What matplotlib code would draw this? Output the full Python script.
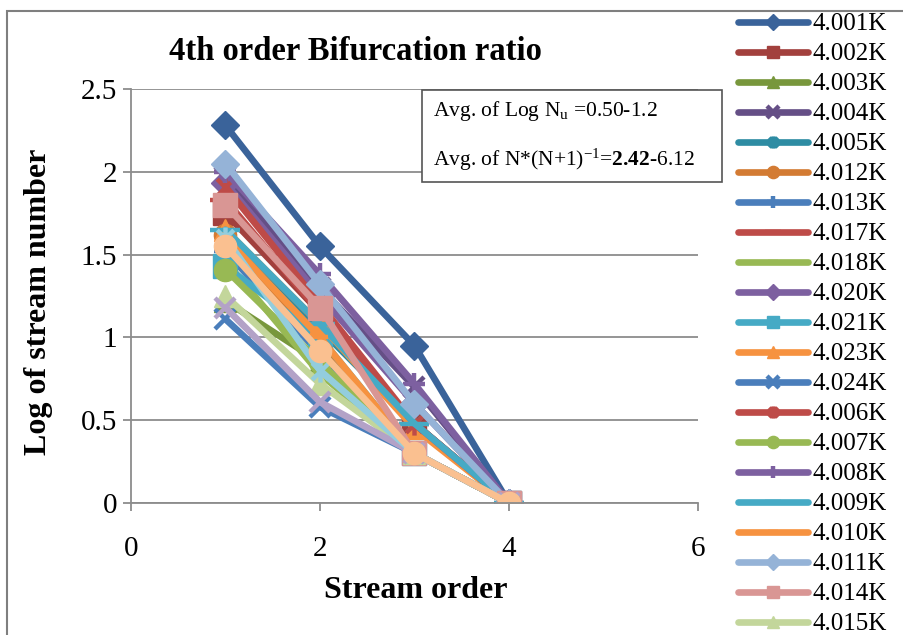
import matplotlib
matplotlib.use('Agg')
import matplotlib.pyplot as plt
from matplotlib.path import Path
from matplotlib.patches import Rectangle

plt.rcParams['font.family'] = ['Liberation Serif', 'DejaVu Serif']
plt.rcParams['mathtext.fontset'] = 'custom'
plt.rcParams['mathtext.rm'] = 'Liberation Serif'
plt.rcParams['mathtext.it'] = 'Liberation Serif:italic'
plt.rcParams['mathtext.bf'] = 'Liberation Serif:bold'

# stream orders and log of stream number per basin
orders = [1, 2, 3, 4]
names = ['4.001K', '4.002K', '4.003K', '4.004K', '4.005K', '4.012K', '4.013K', '4.017K',
         '4.018K', '4.020K', '4.021K', '4.023K', '4.024K', '4.006K', '4.007K', '4.008K',
         '4.009K', '4.010K', '4.011K', '4.014K', '4.015K', '4.016K', '4.019K', '4.022K']
log_n = [
    [2.28, 1.55, 0.95, 0],
    [1.75, 1.15, 0.48, 0],
    [1.22, 0.85, 0.30, 0],
    [1.97, 1.30, 0.70, 0],
    [1.60, 1.05, 0.48, 0],
    [1.62, 0.95, 0.30, 0],
    [1.52, 0.90, 0.30, 0],
    [1.83, 1.15, 0.48, 0],
    [1.46, 0.78, 0.30, 0],
    [1.93, 1.25, 0.60, 0],
    [1.43, 1.00, 0.30, 0],
    [1.65, 1.08, 0.45, 0],
    [1.11, 0.58, 0.30, 0],
    [1.91, 1.20, 0.48, 0],
    [1.41, 0.85, 0.30, 0],
    [2.00, 1.38, 0.72, 0],
    [1.65, 1.08, 0.48, 0],
    [1.60, 1.00, 0.30, 0],
    [2.05, 1.32, 0.60, 0],
    [1.80, 1.18, 0.30, 0],
    [1.25, 0.72, 0.30, 0],
    [1.18, 0.61, 0.30, 0],
    [1.60, 0.80, 0.30, 0],
    [1.55, 0.92, 0.30, 0],
]
n_legend = 21  # entries that fit in the visible legend

dark = ['#3A639A', '#A2403D', '#78973C', '#654F86', '#2E8CA3', '#D37B33']
mid = ['#4A7EBB', '#BE4B48', '#98B954', '#7D60A0', '#46AAC5', '#F69240']
light = ['#95B3D7', '#D99694', '#C3D69B', '#B3A2C7', '#93CDDD', '#FAC090']
colors = dark + mid + mid + light

asterisk = Path([(0, -1), (0, 1), (-0.75, -0.75), (0.75, 0.75), (-0.75, 0.75), (0.75, -0.75)],
                [Path.MOVETO, Path.LINETO] * 3)
marker_cycle = ['D', 's', '^', 'x', asterisk, 'o', '+', '_', '_']
size_cycle = [14, 17, 16, 15, 16, 16, 16, 22, 12]

fig = plt.figure(figsize=(9.04, 6.35), dpi=100)
ax = fig.add_axes([131 / 904, 1 - 503 / 635, 567 / 904, 414 / 635])

for i, (name, vals) in enumerate(zip(names, log_n)):
    m = marker_cycle[i % 9]
    filled = m in ('D', 's', '^', 'o')
    ax.plot(orders, vals, color=colors[i], lw=4.8, marker=m,
            markersize=size_cycle[i % 9], markeredgewidth=3.2 if not filled else 1,
            markerfacecolor=colors[i], markeredgecolor=colors[i],
            label=name if i < n_legend else '_nolegend_',
            solid_joinstyle='round', solid_capstyle='round')

ax.set_xlim(0, 6)
ax.set_ylim(0, 2.5)
ax.set_xticks([0, 2, 4, 6])
ax.set_yticks([0, 0.5, 1, 1.5, 2, 2.5])
ax.set_yticklabels(['0', '0.5', '1', '1.5', '2', '2.5'])
ax.grid(axis='y', color='#8c8c8c', lw=1.3)
ax.set_axisbelow(True)
for s in ['top', 'right']:
    ax.spines[s].set_visible(False)
for s in ['left', 'bottom']:
    ax.spines[s].set_color('#8c8c8c')
    ax.spines[s].set_linewidth(1.3)
ax.tick_params(direction='out', length=6, width=1.3, color='#8c8c8c', labelsize=21)
ax.tick_params(axis='x', pad=18)
ax.tick_params(axis='y', pad=4)

ax.set_xlabel('Stream order', fontsize=23, fontweight='bold')
ax.set_ylabel('Log of stream number', fontsize=23, fontweight='bold')
ax.xaxis.set_label_coords((416 - 131) / 567, (503 - 590) / 414)
ax.yaxis.set_label_coords((38 - 131) / 567, (503 - 302) / 414)
ax.xaxis.label.set_va('center')
ax.yaxis.label.set_va('center')
fig.text(355 / 904, 1 - 52 / 635, '4th order Bifurcation ratio', fontsize=23.5,
         fontweight='bold', ha='center', va='center')

# annotation box
fig.patches.append(Rectangle((422 / 904, 1 - 182 / 635), 300 / 904, 92 / 635,
                             transform=fig.transFigure, facecolor='white',
                             edgecolor='#555555', lw=1.2, zorder=5))
fig.text(433 / 904, 1 - 111 / 635, r'Avg. of Log N$_{\mathrm{u}}$ =0.50-1.2',
         fontsize=15.5, ha='left', va='center', zorder=6)
fig.text(433 / 904, 1 - 160 / 635, r'Avg. of N*(N+1)$^{\mathrm{-1}}$=$\mathbf{2.42}$-6.12',
         fontsize=15.5, ha='left', va='center', zorder=6)

# outer chart frame
fig.patches.append(Rectangle((7 / 904, -0.05), 1.2, 1 - 11 / 635 + 0.05,
                             transform=fig.transFigure, facecolor='none',
                             edgecolor='#7f7f7f', lw=1.5, zorder=0))

fig.legend(loc='upper left', bbox_to_anchor=(738 / 904, 1 - 13 / 635),
           frameon=False, fontsize=18, markerscale=0.55, labelspacing=0.3,
           handlelength=2.8, handletextpad=0.2, borderaxespad=0, borderpad=0)

fig.savefig('out.png', dpi=100)
